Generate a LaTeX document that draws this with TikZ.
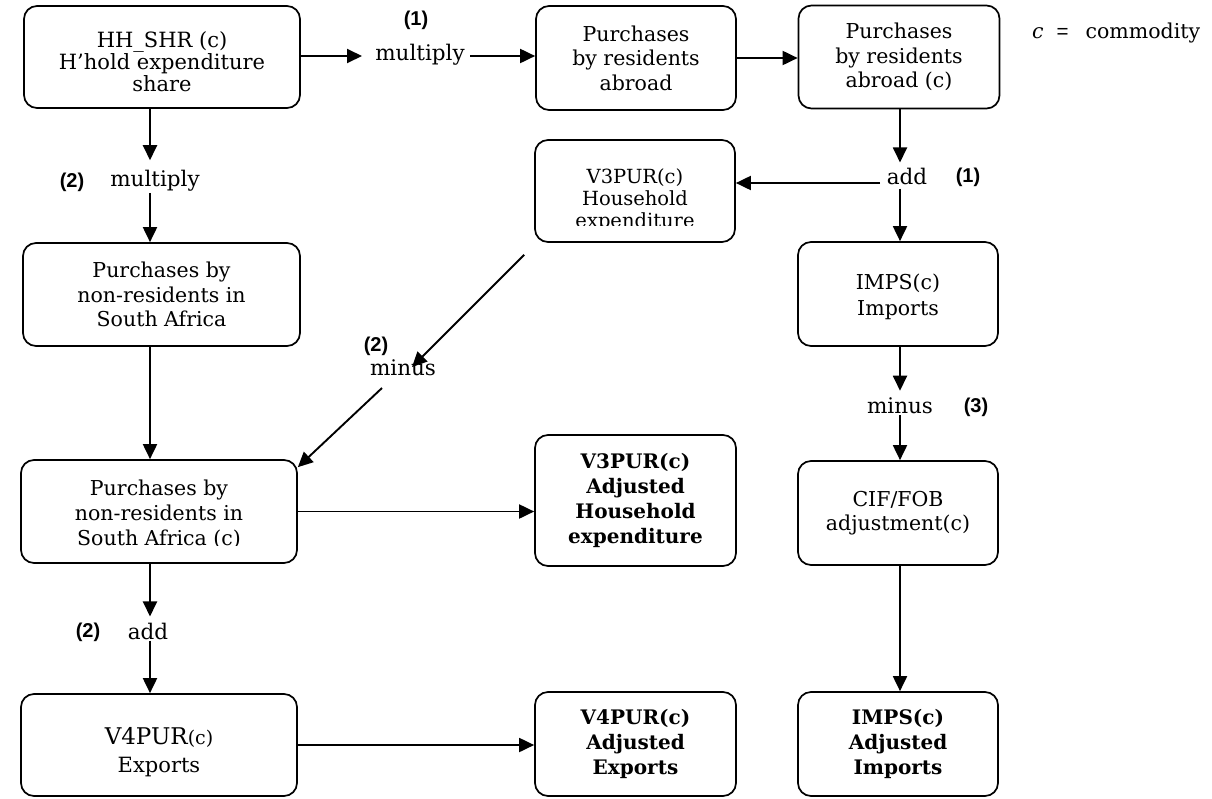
\documentclass[tikz,border=0pt]{standalone}
\usepackage{fontspec}
\setmainfont{DejaVu Serif}
\newfontfamily\numfont{Liberation Sans}
\usetikzlibrary{arrows.meta}
\begin{document}
\begin{tikzpicture}[x=1pt,y=-1pt,
  box/.style={draw,line width=1.7pt,rounded corners=13pt,align=center,inner sep=0pt,
    font=\fontsize{20.5}{24.5}\selectfont},
  bbox/.style={box,font=\bfseries\fontsize{20}{25}\selectfont},
  txt/.style={align=center,inner sep=0pt,font=\fontsize{20.5}{24.5}\selectfont},
  op/.style={inner sep=1pt,font=\fontsize{21.5}{24}\selectfont},
  stepno/.style={inner sep=1pt,font=\numfont\bfseries\fontsize{20}{22}\selectfont},
  arr/.style={line width=1.9pt,-{Triangle[length=15pt,width=14pt]}}
]
\useasboundingbox (0,0) rectangle (1212,798);

% guide columns for the vertical connectors
\coordinate (colL) at (150,0);
\coordinate (colR) at (900,0);

% ---- boxes ----
\node[box,minimum width=276pt,minimum height=102pt] (A) at (162,57) {};
\node[txt,font=\fontsize{21}{22}\selectfont] (Atxt) at (162,62)
  {HH\_SHR (c)\\H’hold expenditure\\share};
\node[box,minimum width=200pt,minimum height=104pt] (B) at (636,58)
  {Purchases\\by residents\\abroad};
\node[box,minimum width=201pt,minimum height=103pt] (C) at (899,57)
  {Purchases\\by residents\\abroad (c)};
\node[box,minimum width=200pt,minimum height=102pt] (D) at (635,191) {};
\begin{scope}
  \clip (520,130) rectangle (750,225);
  \node[txt,font=\fontsize{19.5}{22}\selectfont] (Dtxt) at (635,200) {V3PUR(c)\\Household\\expenditure};
\end{scope}
\node[box,minimum width=200pt,minimum height=104pt] (E) at (898,294) {};
\node[txt,font=\fontsize{20.5}{26}\selectfont] (Etxt) at (898,297) {IMPS(c)\\Imports};
\node[box,minimum width=200pt,minimum height=104pt,font=\fontsize{20.5}{24}\selectfont] (F) at (898,513)
  {CIF/FOB\\adjustment(c)};
\node[bbox,minimum width=200pt,minimum height=104pt] (I) at (898,744)
  {IMPS(c)\\Adjusted\\Imports};

\node[box,minimum width=277pt,minimum height=103pt] (G) at (161.5,294.5)
  {Purchases by\\non-residents in\\South Africa};
\node[box,minimum width=276pt,minimum height=103pt] (H) at (159,511.5) {};
\begin{scope}
  \clip (10,450) rectangle (310,545.5);
  \node[txt,font=\fontsize{20.5}{25}\selectfont] (Htxt) at (159,514)
    {Purchases by\\non-residents in\\South Africa (c)};
\end{scope}
\node[bbox,minimum width=201pt,minimum height=131pt] (J) at (635.5,500.5)
  {V3PUR(c)\\Adjusted\\Household\\expenditure};
\node[box,minimum width=276pt,minimum height=102pt] (K) at (159,745) {};
\node[txt,font=\fontsize{21}{28}\selectfont] (Ktxt) at (159,752)
  {{\fontsize{23}{28}\selectfont V4PUR}{\fontsize{19}{28}\selectfont(c)}\\Exports};
\node[bbox,minimum width=201pt,minimum height=104pt] (L) at (635.5,744)
  {V4PUR(c)\\Adjusted\\Exports};

% ---- operation labels ----
\node[op] (mulA) at (420,55) {multiply};
\node[stepno] (n1a) at (416,20) {(1)};
\node[op] (mulB) at (155,181) {multiply};
\node[stepno] (n2a) at (72,182) {(2)};
\node[op] (addC) at (907,176) {add};
\node[stepno] (n1b) at (968,177) {(1)};
\node[op] (minusD) at (403,368) {minus};
\node[stepno] (n2b) at (376,346) {(2)};
\node[op] (minusE) at (900,406) {minus};
\node[stepno] (n3) at (976,407) {(3)};
\node[op] (addH) at (148,631) {add};
\node[stepno] (n2c) at (88,632) {(2)};

% legend
\node[anchor=west,inner sep=0pt,font=\fontsize{20.5}{24}\selectfont] (legend) at (1032,33)
  {\textit{c}\hspace{13pt}{\numfont =}\hspace{17pt}commodity};

% ---- connectors ----
\coordinate (mulAin) at (362,56);
\draw[arr] (A.east |- mulAin) -- (mulAin);
\coordinate (mulAout) at (470,56);
\draw[arr] (mulAout) -- (mulAout -| B.west);
\draw[arr] (B.east) -- (B.east -| C.west);

\draw[arr] (A.south -| colL) -- ([yshift=9pt]mulB.north -| colL);
\draw[arr] (mulB.south -| colL) -- (G.north -| colL);
\draw[arr] (G.south -| colL) -- (H.north -| colL);
\draw[arr] (H.south -| colL) -- ([yshift=5pt]addH.north -| colL);
\draw[arr] (addH.south -| colL) -- (K.north -| colL);

\draw[arr] (C.south -| colR) -- ([yshift=4pt]addC.north -| colR);
\draw[arr] ([yshift=-3pt]addC.south -| colR) -- (E.north -| colR);
\coordinate (addOut) at (880,183);
\draw[arr] (addOut) -- (addOut -| D.east);
\draw[arr] (E.south -| colR) -- ([yshift=6pt]minusE.north -| colR);
\draw[arr] (minusE.south -| colR) -- (F.north -| colR);
\draw[arr] (F.south -| colR) -- (I.north -| colR);

\draw[arr] ([shift={(-10,12)}]D.south west) -- ([shift={(9,-1)}]minusD.center);
\draw[arr] ([shift={(-21,20)}]minusD.center) -- ([shift={(0,8)}]H.north east);

\draw[arr] (H.east) -- (H.east -| J.west);
\draw[arr] (K.east) -- (K.east -| L.west);
\end{tikzpicture}
\end{document}
